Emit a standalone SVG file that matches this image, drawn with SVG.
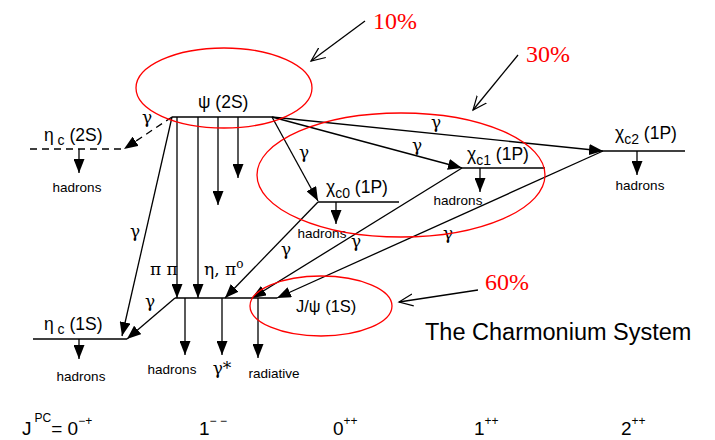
<svg xmlns="http://www.w3.org/2000/svg" width="715" height="440" viewBox="0 0 715 440">
<style>
text{font-family:"Liberation Sans",Arial,sans-serif;fill:#000}
.st{font-size:17.5px}
.sub{font-size:14px}
.had{font-size:13.5px}
.g{font-size:17px;font-family:"DejaVu Serif","Liberation Serif",serif}
.lvl{stroke:#000;stroke-width:1.6;fill:none}
.ln{stroke:#000;stroke-width:1.3;fill:none}
.ell{stroke:#ff0000;stroke-width:1.3;fill:none}
.pct{font-family:"Liberation Serif","Times New Roman",serif;font-size:24px;fill:#ff0000}
.jpc{font-size:19px}
.sup{font-size:12px}
</style>
<defs>
<marker id="ah" markerUnits="userSpaceOnUse" markerWidth="15" markerHeight="11" refX="14" refY="5.5" orient="auto">
<path d="M0,0 L14,5.5 L0,11 Z" fill="#000"/>
</marker>
<marker id="oa" markerUnits="userSpaceOnUse" markerWidth="16" markerHeight="14" refX="14" refY="7" orient="auto">
<path d="M0,1 L14,7 L0,13" fill="none" stroke="#000" stroke-width="1.2"/>
</marker>
</defs>

<g id="psi2S">
<line class="lvl" x1="172" y1="117" x2="272" y2="117"/>
<text class="st" x="198" y="108">ψ (2S)</text>
</g>
<g id="etac2S">
<line class="lvl" x1="30" y1="149" x2="124" y2="149" stroke-dasharray="7,5"/>
<text class="st" x="44" y="141">η<tspan class="sub" dy="4"> c</tspan><tspan dy="-4"> (2S)</tspan></text>
<text class="had" x="77" y="192" text-anchor="middle">hadrons</text>
</g>
<g id="chic0">
<line class="lvl" x1="318" y1="202" x2="399" y2="202"/>
<text class="st" x="326" y="193">χ<tspan class="sub" dy="5">c0</tspan><tspan dy="-5"> (1P)</tspan></text>
<text class="had" x="322" y="238" text-anchor="middle">hadrons</text>
</g>
<g id="chic1">
<line class="lvl" x1="462" y1="168" x2="545" y2="168"/>
<text class="st" x="467" y="160">χ<tspan class="sub" dy="5">c1</tspan><tspan dy="-5"> (1P)</tspan></text>
<text class="had" x="458" y="205" text-anchor="middle">hadrons</text>
</g>
<g id="chic2">
<line class="lvl" x1="603" y1="151" x2="685" y2="151"/>
<text class="st" x="615" y="139">χ<tspan class="sub" dy="5">c2</tspan><tspan dy="-5"> (1P)</tspan></text>
<text class="had" x="640" y="190" text-anchor="middle">hadrons</text>
</g>
<g id="jpsi1S">
<line class="lvl" x1="175" y1="298" x2="277" y2="298"/>
<text x="296" y="312" font-size="16.5px">J/ψ (1S)</text>
<text class="had" x="172" y="374" text-anchor="middle">hadrons</text>
<text class="g" x="222" y="374" text-anchor="middle">γ*</text>
<text class="had" x="274" y="378" text-anchor="middle">radiative</text>
</g>
<g id="etac1S">
<line class="lvl" x1="33" y1="339" x2="127" y2="339"/>
<text class="st" x="44" y="330">η<tspan class="sub" dy="4"> c</tspan><tspan dy="-4"> (1S)</tspan></text>
<text class="had" x="81" y="381" text-anchor="middle">hadrons</text>
</g>

<g id="connectors">
<line class="ln" x1="172" y1="117" x2="124" y2="149" stroke-dasharray="7,5" marker-end="url(#ah)"/>
<line class="ln" x1="79" y1="149" x2="79" y2="173" marker-end="url(#ah)"/>
<line class="ln" x1="172" y1="117" x2="122" y2="336" marker-end="url(#ah)"/>
<line class="ln" x1="177" y1="117" x2="177" y2="298" marker-end="url(#ah)"/>
<line class="ln" x1="198" y1="117" x2="198" y2="298" marker-end="url(#ah)"/>
<line class="ln" x1="218" y1="117" x2="218" y2="205" marker-end="url(#ah)"/>
<line class="ln" x1="238" y1="117" x2="238" y2="178" marker-end="url(#ah)"/>
<line class="ln" x1="272" y1="117" x2="318" y2="201" marker-end="url(#ah)"/>
<line class="ln" x1="272" y1="117" x2="462" y2="168" marker-end="url(#ah)"/>
<line class="ln" x1="272" y1="117" x2="603" y2="151" marker-end="url(#ah)"/>
<line class="ln" x1="336" y1="202" x2="336" y2="224" marker-end="url(#ah)"/>
<line class="ln" x1="480" y1="168" x2="480" y2="192" marker-end="url(#ah)"/>
<line class="ln" x1="637" y1="151" x2="637" y2="175" marker-end="url(#ah)"/>
<line class="ln" x1="318" y1="202" x2="225" y2="298" marker-end="url(#ah)"/>
<line class="ln" x1="462" y1="168" x2="252" y2="298" marker-end="url(#ah)"/>
<line class="ln" x1="603" y1="151" x2="277" y2="298" marker-end="url(#ah)"/>
<line class="ln" x1="175" y1="298" x2="127" y2="339" marker-end="url(#ah)"/>
<line class="ln" x1="185" y1="298" x2="185" y2="355" marker-end="url(#ah)"/>
<line class="ln" x1="222" y1="298" x2="222" y2="355" marker-end="url(#ah)"/>
<line class="ln" x1="258" y1="298" x2="258" y2="358" marker-end="url(#ah)"/>
<line class="ln" x1="79" y1="339" x2="79" y2="359" marker-end="url(#ah)"/>
<text class="g" x="142" y="123">γ</text>
<text class="g" x="130" y="237">γ</text>
<text class="g" x="299" y="158">γ</text>
<text class="g" x="412" y="151">γ</text>
<text class="g" x="431" y="128">γ</text>
<text class="g" x="145" y="307">γ</text>
<text class="g" x="281" y="255">γ</text>
<text class="g" x="351" y="247">γ</text>
<text class="g" x="443" y="239">γ</text>
<text class="g" x="150" y="275">π π</text>
<text class="g" x="204" y="275">η, π<tspan font-size="12" dy="-7">o</tspan></text>
</g>

<g id="highlights">
<ellipse class="ell" cx="224" cy="88" rx="88" ry="40"/>
<ellipse class="ell" cx="401" cy="175" rx="144" ry="62"/>
<ellipse class="ell" cx="321" cy="306" rx="71" ry="30"/>
<text class="pct" x="373" y="29">10%</text>
<text class="pct" x="526" y="62">30%</text>
<text class="pct" x="485" y="290">60%</text>
<line class="ln" x1="365" y1="21" x2="311" y2="61" marker-end="url(#oa)"/>
<line class="ln" x1="518" y1="55" x2="473" y2="110" marker-end="url(#oa)"/>
<line class="ln" x1="478" y1="290" x2="399" y2="302" marker-end="url(#oa)"/>
</g>

<text x="425" y="340" font-size="23.5">The Charmonium System</text>

<g id="jpc">
<text class="jpc" x="22" y="435">J<tspan class="sup" dx="3" dy="-13">PC</tspan><tspan dy="13">= 0</tspan><tspan class="sup" dy="-10">−+</tspan></text>
<text class="jpc" x="199" y="435">1<tspan class="sup" dy="-10">− −</tspan></text>
<text class="jpc" x="333" y="435">0<tspan class="sup" dy="-10">++</tspan></text>
<text class="jpc" x="474" y="435">1<tspan class="sup" dy="-10">++</tspan></text>
<text class="jpc" x="621" y="435">2<tspan class="sup" dy="-10">++</tspan></text>
</g>
</svg>
